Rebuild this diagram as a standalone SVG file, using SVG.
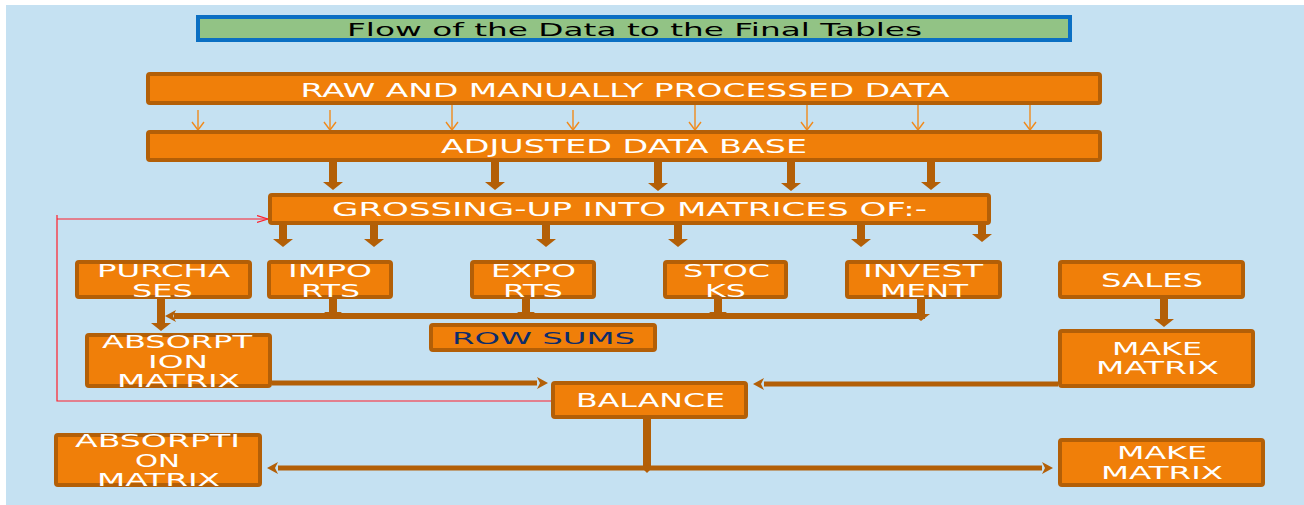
<svg xmlns="http://www.w3.org/2000/svg" width="1304" height="505" viewBox="0 0 1304 505">
  <defs>
    <style>
      .box { fill: #f07f09; stroke: #b35f07; stroke-width: 4; }
      .title-box { fill: #92c385; stroke: #0b6fc3; stroke-width: 4; }
      .lbl { font-family: "DejaVu Sans", "Liberation Sans", sans-serif; font-size: 19px; fill: #ffffff; text-anchor: middle; }
      .multi { font-size: 18px; }
      .title { font-family: "DejaVu Sans", "Liberation Sans", sans-serif; font-size: 18px; fill: #000000; text-anchor: middle; }
      .dark { fill: #0c2c6c; font-size: 16px; }
      .thick { stroke: #b35f07; fill: none; stroke-width: 8; }
      .mid { stroke: #b35f07; fill: none; stroke-width: 6; }
      .slim { stroke: #b35f07; fill: none; stroke-width: 5; }
      .thin { stroke: #f08a1c; fill: none; stroke-width: 1.4; }
      .red { stroke: #ff1f2a; fill: none; stroke-width: 1.2; }
      .head { fill: #b35f07; }
    </style>
    <marker id="head-l" markerUnits="userSpaceOnUse" markerWidth="8" markerHeight="20" viewBox="0 0 8 20" refX="0" refY="10" orient="auto">
      <path class="head" d="M0,0 L8,10 L0,20 z"/>
    </marker>
    <marker id="head-s" markerUnits="userSpaceOnUse" markerWidth="7" markerHeight="18" viewBox="0 0 7 18" refX="0" refY="9" orient="auto">
      <path class="head" d="M0,0 L7,9 L0,18 z"/>
    </marker>
    <marker id="head-h" markerUnits="userSpaceOnUse" markerWidth="11" markerHeight="12" viewBox="0 0 11 12" refX="0" refY="6" orient="auto">
      <path class="head" d="M0,0 L11,6 L0,12 L3,6 z"/>
    </marker>
    <marker id="vee-thin" markerUnits="userSpaceOnUse" markerWidth="12" markerHeight="14" viewBox="0 0 12 14" refX="10" refY="7" orient="auto">
      <path d="M2,1 L10,7 L2,13" fill="none" stroke="#f08a1c" stroke-width="1.4"/>
    </marker>
    <marker id="vee-red" markerUnits="userSpaceOnUse" markerWidth="12" markerHeight="9" viewBox="0 0 12 9" refX="11" refY="4.5" orient="auto">
      <path d="M0,1 L11,4.5 L0,8" fill="none" stroke="#ff1f2a" stroke-width="1.2"/>
    </marker>
  </defs>

  <!-- page background -->
  <rect x="0" y="0" width="1304" height="505" fill="#ffffff"/>
  <rect x="6" y="5" width="1298" height="500" fill="#c5e1f2"/>

  <!-- connectors -->
  <g id="connectors">
    <!-- raw data to adjusted base -->
    <g class="thin" marker-end="url(#vee-thin)">
      <path d="M198,110 V130"/>
      <path d="M330,110 V130"/>
      <path d="M452,105 V130"/>
      <path d="M573,110 V130"/>
      <path d="M695,105 V130"/>
      <path d="M807,105 V130"/>
      <path d="M918,105 V130"/>
      <path d="M1030,105 V130"/>
    </g>
    <!-- adjusted base to grossing-up -->
    <g class="thick" marker-end="url(#head-l)">
      <path d="M333,162 V182"/>
      <path d="M495,162 V182"/>
      <path d="M658,162 V183"/>
      <path d="M791,162 V183"/>
      <path d="M931,162 V182"/>
    </g>
    <!-- grossing-up to the matrices -->
    <g class="thick" marker-end="url(#head-l)">
      <path d="M283,225 V239"/>
      <path d="M374,225 V239"/>
      <path d="M546,225 V239"/>
      <path d="M678,225 V239"/>
      <path d="M861,225 V239"/>
      <path d="M982,225 V234"/>
    </g>
    <!-- row sums bus -->
    <path class="mid" d="M174,316 H925"/>
    <path class="head" d="M165,316 L176,310 L173,316 L176,322 z"/>
    <g class="thick" marker-end="url(#head-s)">
      <path d="M333,299 V312"/>
      <path d="M526,299 V312"/>
      <path d="M718,299 V312"/>
      <path d="M921,287 V314"/>
    </g>
    <!-- purchases to absorption, sales to make -->
    <path class="thick" marker-end="url(#head-l)" d="M161,299 V323"/>
    <path class="thick" marker-end="url(#head-l)" d="M1164,299 V319"/>
    <!-- into balance -->
    <path class="slim" marker-end="url(#head-h)" d="M272,383 H537"/>
    <path class="slim" marker-end="url(#head-h)" d="M1058,384 H764"/>
    <!-- balance out to final matrices -->
    <path class="thick" d="M647,419 V468"/>
    <path class="head" d="M647,462 L652,468 L647,473 L642,468 z"/>
    <path class="slim" marker-end="url(#head-h)" d="M647,468 H278"/>
    <path class="slim" marker-end="url(#head-h)" d="M647,468 H1042"/>
    <!-- feedback loop -->
    <path class="red" d="M553,401 H57 V215"/>
    <path class="red" marker-end="url(#vee-red)" d="M57,219 H268"/>
  </g>

  <!-- nodes -->
  <g id="title">
    <rect class="title-box" x="198" y="17" width="872" height="23"/>
    <text class="title" x="634.5" y="36" textLength="575" lengthAdjust="spacingAndGlyphs">Flow of the Data to the Final Tables</text>
  </g>
  <g id="raw-data">
    <rect class="box" x="148" y="74" width="952" height="29" rx="2"/>
    <text class="lbl" x="625" y="97" textLength="649" lengthAdjust="spacingAndGlyphs">RAW AND MANUALLY PROCESSED DATA</text>
  </g>
  <g id="adjusted-base">
    <rect class="box" x="148" y="132" width="952" height="28" rx="2"/>
    <text class="lbl" x="624" y="153" textLength="366" lengthAdjust="spacingAndGlyphs">ADJUSTED DATA BASE</text>
  </g>
  <g id="grossing-up">
    <rect class="box" x="270" y="195" width="719" height="28" rx="2"/>
    <text class="lbl" x="629.5" y="216" textLength="595" lengthAdjust="spacingAndGlyphs">GROSSING-UP INTO MATRICES OF:-</text>
  </g>
  <g id="purchases">
    <rect class="box" x="77" y="262" width="173" height="35" rx="2"/>
    <text class="lbl multi" x="163.5" y="277" textLength="133" lengthAdjust="spacingAndGlyphs">PURCHA</text>
    <text class="lbl multi" x="162.5" y="297" textLength="61" lengthAdjust="spacingAndGlyphs">SES</text>
  </g>
  <g id="imports">
    <rect class="box" x="269" y="262" width="122" height="35" rx="2"/>
    <text class="lbl multi" x="330" y="277" textLength="84" lengthAdjust="spacingAndGlyphs">IMPO</text>
    <text class="lbl multi" x="330.5" y="297" textLength="59" lengthAdjust="spacingAndGlyphs">RTS</text>
  </g>
  <g id="exports">
    <rect class="box" x="472" y="262" width="122" height="35" rx="2"/>
    <text class="lbl multi" x="533.5" y="277" textLength="85" lengthAdjust="spacingAndGlyphs">EXPO</text>
    <text class="lbl multi" x="533" y="297" textLength="60" lengthAdjust="spacingAndGlyphs">RTS</text>
  </g>
  <g id="stocks">
    <rect class="box" x="665" y="262" width="121" height="35" rx="2"/>
    <text class="lbl multi" x="726.5" y="277" textLength="87" lengthAdjust="spacingAndGlyphs">STOC</text>
    <text class="lbl multi" x="725.5" y="297" textLength="41" lengthAdjust="spacingAndGlyphs">KS</text>
  </g>
  <g id="investment">
    <rect class="box" x="847" y="262" width="153" height="35" rx="2"/>
    <text class="lbl multi" x="923" y="277" textLength="120" lengthAdjust="spacingAndGlyphs">INVEST</text>
    <text class="lbl multi" x="924" y="297" textLength="88" lengthAdjust="spacingAndGlyphs">MENT</text>
  </g>
  <g id="sales">
    <rect class="box" x="1060" y="262" width="183" height="35" rx="2"/>
    <text class="lbl" x="1152" y="287" textLength="102" lengthAdjust="spacingAndGlyphs">SALES</text>
  </g>
  <g id="row-sums">
    <rect class="box" x="431" y="325" width="224" height="25" rx="2"/>
    <text class="lbl dark" x="543.5" y="344" textLength="183" lengthAdjust="spacingAndGlyphs">ROW SUMS</text>
  </g>
  <g id="absorption-matrix-1">
    <rect class="box" x="87" y="335" width="183" height="51" rx="2"/>
    <text class="lbl multi" x="177" y="348" textLength="150" lengthAdjust="spacingAndGlyphs">ABSORPT</text>
    <text class="lbl multi" x="178" y="368" textLength="60" lengthAdjust="spacingAndGlyphs">ION</text>
    <text class="lbl multi" x="178.5" y="387" textLength="123" lengthAdjust="spacingAndGlyphs">MATRIX</text>
  </g>
  <g id="balance">
    <rect class="box" x="553" y="383" width="193" height="34" rx="2"/>
    <text class="lbl" x="650.5" y="407" textLength="149" lengthAdjust="spacingAndGlyphs">BALANCE</text>
  </g>
  <g id="make-matrix-1">
    <rect class="box" x="1060" y="331" width="193" height="55" rx="2"/>
    <text class="lbl multi" x="1157" y="355" textLength="90" lengthAdjust="spacingAndGlyphs">MAKE</text>
    <text class="lbl multi" x="1157.5" y="374" textLength="123" lengthAdjust="spacingAndGlyphs">MATRIX</text>
  </g>
  <g id="absorption-matrix-2">
    <rect class="box" x="56" y="435" width="204" height="50" rx="2"/>
    <text class="lbl multi" x="157.5" y="447" textLength="165" lengthAdjust="spacingAndGlyphs">ABSORPTI</text>
    <text class="lbl multi" x="157.5" y="467" textLength="45" lengthAdjust="spacingAndGlyphs">ON</text>
    <text class="lbl multi" x="158.5" y="486" textLength="123" lengthAdjust="spacingAndGlyphs">MATRIX</text>
  </g>
  <g id="make-matrix-2">
    <rect class="box" x="1060" y="440" width="203" height="45" rx="2"/>
    <text class="lbl multi" x="1162" y="459" textLength="90" lengthAdjust="spacingAndGlyphs">MAKE</text>
    <text class="lbl multi" x="1162" y="479" textLength="122" lengthAdjust="spacingAndGlyphs">MATRIX</text>
  </g>
</svg>
